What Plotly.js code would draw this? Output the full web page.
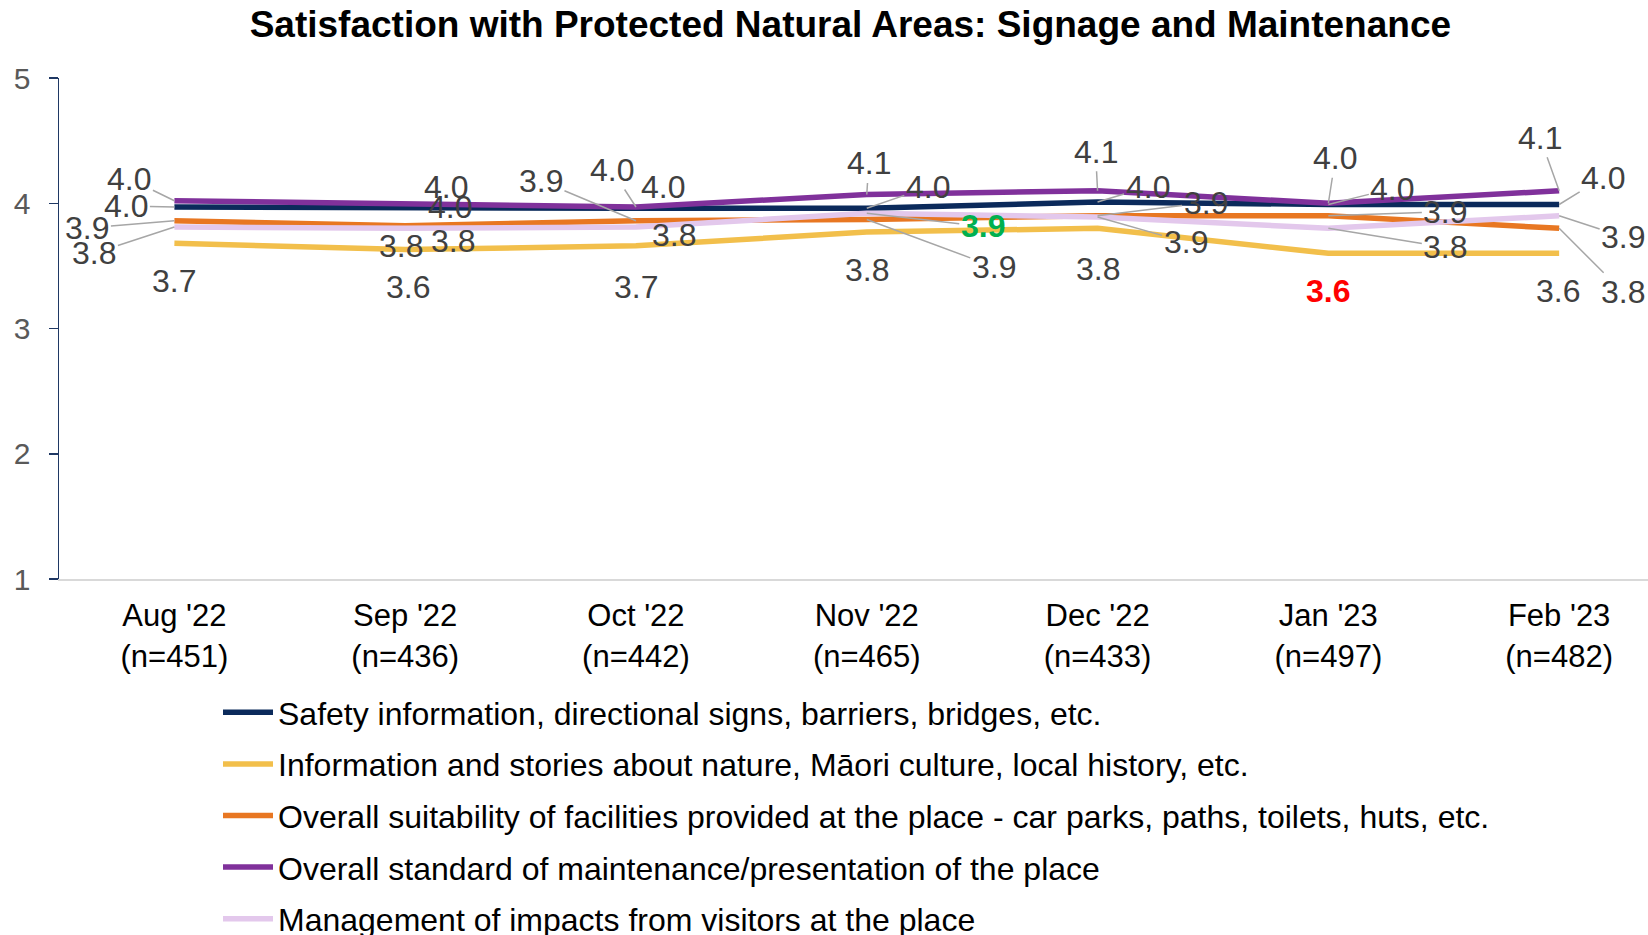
<!DOCTYPE html>
<html>
<head>
<meta charset="utf-8">
<script src="https://cdn.plot.ly/plotly-3.0.1.min.js"></script>
<style>html,body{margin:0;padding:0;background:#fff;}</style>
</head>
<body>
<div id="chart" style="width:1648px;height:935px;"></div>
<script>
// ---- data ----
const months = ["Aug '22", "Sep '22", "Oct '22", "Nov '22", "Dec '22", "Jan '23", "Feb '23"];
const sampleSizes = [451, 436, 442, 465, 433, 497, 482];

const seriesNames = [
  "Safety information, directional signs, barriers, bridges, etc.",
  "Information and stories about nature, Māori culture, local history, etc.",
  "Overall suitability of facilities provided at the place - car parks, paths, toilets, huts, etc.",
  "Overall standard of maintenance/presentation of the place",
  "Management of impacts from visitors at the place"
];
const safety      = [3.97, 3.96, 3.96, 3.96, 4.01, 3.99, 3.99];
const information = [3.68, 3.63, 3.66, 3.77, 3.80, 3.60, 3.60];
const facilities  = [3.86, 3.82, 3.86, 3.87, 3.90, 3.90, 3.80];
const maintenance = [4.02, 3.99, 3.97, 4.07, 4.10, 4.00, 4.10];
const management  = [3.81, 3.80, 3.81, 3.92, 3.89, 3.80, 3.90];

// ---- styles (not data) ----
const colors = ["#0B2A5B", "#F2BF4B", "#E87722", "#80319B", "#E3C8EC"];
const seriesValues = [safety, information, facilities, maintenance, management];

// label offsets [ax, ay, leader] per series per month (pixels)
const labelOffsets = [
  // safety (navy)
  [[-48,-1,1],[45,-1,0],[27,-21,0],[61,-21,1],[50,-15,1],[64,-16,1],[44,-27,1]],
  // information (yellow)
  [[0,38,0],[3,37,0],[0,41,0],[0,38,0],[0,41,0],[0,38,0],[-1,38,0]],
  // facilities (orange)
  [[-87,7,1],[-4,20,0],[-95,-40,1],[127,47,1],[108,-13,1],[117,-4,1],[64,64,1]],
  // maintenance (purple)
  [[-45,-22,1],[41,-18,0],[-24,-37,1],[2,-31,1],[-2,-39,1],[7,-45,1],[-19,-53,1]],
  // management (lilac)
  [[-80,26,1],[48,13,0],[38,8,0],[116,13,1],[88,25,1],[117,19,1],[64,21,1]]
];
// highlighted labels: [series, monthIndex, colour]
const highlights = [[4, 3, "#00B050"], [1, 5, "#FF0000"]];

const FONT = "Liberation Sans, Arial, sans-serif";
const tickText = months.map((m, i) => m + "<br>(n=" + sampleSizes[i] + ")");

const traces = seriesNames.map((name, s) => ({
  type: "scatter",
  mode: "lines",
  name: name,
  x: months,
  y: seriesValues[s],
  line: {color: colors[s], width: 5.5},
  legendgroup: "g" + s,
  hoverinfo: "skip"
}));

const annotations = [];
seriesValues.forEach((vals, s) => {
  vals.forEach((v, i) => {
    const off = labelOffsets[s][i];
    const hl = highlights.find(h => h[0] === s && h[1] === i);
    annotations.push({
      x: months[i], y: v, xref: "x", yref: "y",
      text: hl ? "<b>" + v.toFixed(1) + "</b>" : v.toFixed(1),
      showarrow: true, arrowhead: 0, standoff: 0, arrowwidth: 1.5,
      arrowcolor: off[2] ? "#A6A6A6" : "rgba(0,0,0,0)",
      ax: off[0], ay: off[1],
      font: {family: FONT, size: 32, color: hl ? hl[2] : "#404040"}
    });
  });
});

const layout = {
  width: 1648, height: 935, autosize: false,
  margin: {l: 59, r: 0, t: 78, b: 356, autoexpand: false},
  paper_bgcolor: "#fff", plot_bgcolor: "#fff",
  font: {family: FONT, size: 31, color: "#000"},
  title: {
    text: "<b>Satisfaction with Protected Natural Areas: Signage and Maintenance</b>",
    font: {family: FONT, size: 37, color: "#000"},
    x: 0.516, xref: "container", xanchor: "center",
    y: 1 - 24 / 935, yref: "container", yanchor: "middle"
  },
  xaxis: {
    type: "category",
    range: [-0.5, 6.385],
    tickvals: months, ticktext: tickText, tickangle: 0,
    showline: true, linecolor: "#D9D9D9", linewidth: 2,
    ticks: "", showgrid: false, zeroline: false, automargin: false,
    tickfont: {family: FONT, size: 31, color: "#000"},
    ticklabelstandoff: 8,
    fixedrange: true
  },
  yaxis: {
    range: [1, 5], dtick: 1, tick0: 1,
    showline: true, linecolor: "#1F3864", linewidth: 1.5,
    ticks: "outside", ticklen: 9, tickcolor: "#1F3864", tickwidth: 1.5,
    showgrid: false, zeroline: false, automargin: false,
    tickfont: {family: FONT, size: 30, color: "#595959"},
    ticklabelstandoff: 12,
    fixedrange: true
  },
  showlegend: true,
  legend: {
    orientation: "v",
    x: (218 - 59) / 1589, y: -(685 - 579) / 501, xanchor: "left", yanchor: "top",
    font: {family: FONT, size: 32, color: "#000"},
    tracegroupgap: 7,
    itemwidth: 50,
    bgcolor: "rgba(0,0,0,0)"
  },
  annotations: annotations
};

Plotly.newPlot("chart", traces, layout, {displayModeBar: false, staticPlot: true});
</script>
</body>
</html>
